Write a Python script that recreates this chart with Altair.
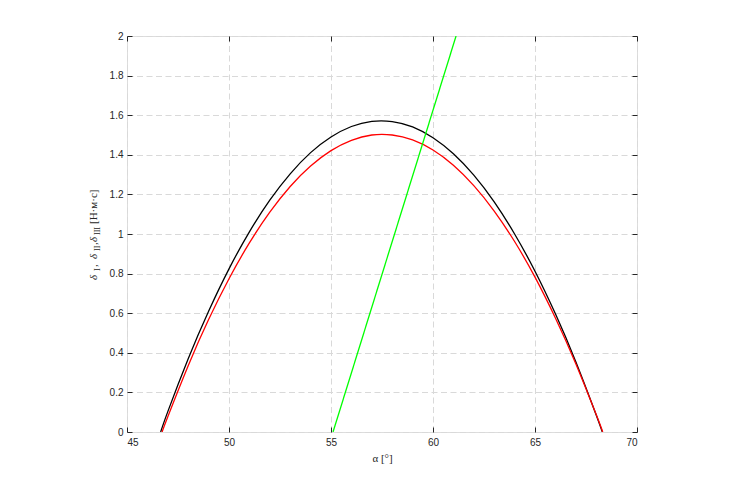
import altair as alt
import pandas as pd

# ---- data ----
alpha_black = [46.65, 47, 48, 49, 50, 51, 52, 53, 54, 55, 56, 57,
               58, 59, 60, 61, 62, 63, 64, 65, 66, 67, 68, 68.3]
delta_black = [0.0, 0.103, 0.370, 0.610, 0.824, 1.011, 1.171, 1.304, 1.411, 1.490, 1.543, 1.569,
               1.568, 1.541, 1.486, 1.405, 1.297, 1.162, 1.000, 0.812, 0.597, 0.355, 0.086, 0.0]

alpha_red = [46.72, 47, 48, 49, 50, 51, 52, 53, 54, 55, 56, 57,
             58, 59, 60, 61, 62, 63, 64, 65, 66, 67, 68, 68.32]
delta_red = [0.0, 0.077, 0.335, 0.568, 0.774, 0.955, 1.110, 1.240, 1.343, 1.421, 1.473, 1.500,
             1.500, 1.475, 1.424, 1.347, 1.244, 1.116, 0.962, 0.782, 0.576, 0.345, 0.088, 0.0]

alpha_green = [55.1, 61.13]
delta_green = [0.0, 2.0]

x_ticks = [45, 50, 55, 60, 65, 70]
y_ticks = [0, 0.2, 0.4, 0.6, 0.8, 1.0, 1.2, 1.4, 1.6, 1.8, 2.0]

x_title = "α [°]"
y_pieces = ["δ", "I", ",", "δ", "II", ",", "δ", "III", " [Н·м·с]"]

df_black = pd.DataFrame({"alpha": alpha_black, "delta": delta_black})
df_red = pd.DataFrame({"alpha": alpha_red, "delta": delta_red})
df_green = pd.DataFrame({"alpha": alpha_green, "delta": delta_green})

W, H = 510, 396
INK = "#262626"

xs = alt.Scale(domain=[45, 70], nice=False, zero=False)
ys = alt.Scale(domain=[0, 2], nice=False, zero=False)

x_main = alt.Axis(orient="bottom", values=x_ticks, grid=True, gridColor="#d9d9d9",
                  gridDash=[6, 3.5], gridWidth=1, domain=False, ticks=True, tickSize=5,
                  offset=-5, tickColor=INK, labelFont="Liberation Sans", labelFontSize=10,
                  labelColor=INK, labelPadding=5, title=x_title, titleFont="Liberation Serif",
                  titleFontSize=11, titleFontWeight="normal", titleColor=INK, titlePadding=5)
y_main = alt.Axis(orient="left", values=y_ticks, grid=True, gridColor="#d9d9d9",
                  gridDash=[6, 3.5], gridWidth=1, domain=False, ticks=True, tickSize=5,
                  offset=-5, tickColor=INK, labelFont="Liberation Sans", labelFontSize=10,
                  labelColor=INK, labelPadding=4, format="~g", title=None)
x_top = alt.Axis(orient="top", values=x_ticks, grid=False, domain=False, ticks=True,
                 tickSize=5, offset=-5, tickColor=INK, labels=False, title=None)
y_right = alt.Axis(orient="right", values=y_ticks, grid=False, domain=False, ticks=True,
                   tickSize=5, offset=-5, tickColor=INK, labels=False, title=None)

black = alt.Chart(df_black).mark_line(color="#000000", strokeWidth=1.3, interpolate="natural",
                                      clip=True).encode(
    x=alt.X("alpha:Q", scale=xs, axis=x_main),
    y=alt.Y("delta:Q", scale=ys, axis=y_main),
)
red = alt.Chart(df_red).mark_line(color="#ff0000", strokeWidth=1.3, interpolate="natural",
                                  clip=True).encode(
    x=alt.X("alpha:Q", scale=xs, axis=x_top),
    y=alt.Y("delta:Q", scale=ys, axis=y_right),
)
green = alt.Chart(df_green).mark_line(color="#00ff00", strokeWidth=1.3, clip=True).encode(
    x=alt.X("alpha:Q", scale=xs, axis=None),
    y=alt.Y("delta:Q", scale=ys, axis=None),
)


def piece(text, ypos, xpos, size, italic=False):
    return alt.Chart(pd.DataFrame({"t": [text]})).mark_text(
        angle=270, align="left", baseline="alphabetic", font="Liberation Serif",
        fontSize=size, fontStyle="italic" if italic else "normal", color=INK,
    ).encode(x=alt.value(xpos), y=alt.value(ypos), text="t:N")


# y label built from pieces so the subscripts can be lowered
starts = [244, 235, 231, 223, 215, 209, 206, 199, 188]
sizes = [11, 8, 11, 11, 8, 11, 11, 8, 11]
label_layers = []
for txt, st, sz in zip(y_pieces, starts, sizes):
    sub = sz == 8
    label_layers.append(piece(txt, st, -27 if sub else -30, sz, italic=(txt == "δ")))

chart = alt.layer(black, red, green, *label_layers).resolve_axis(
    x="independent", y="independent"
).properties(
    width=W, height=H,
    autosize=alt.AutoSizeParams(type="none"),
    padding={"left": 119, "top": 28, "right": 85, "bottom": 46},
).configure_view(
    stroke=INK, strokeWidth=1
).configure(font="Liberation Sans", background="white")

chart.save("out.html", embed_options={"renderer": "svg", "actions": False})
